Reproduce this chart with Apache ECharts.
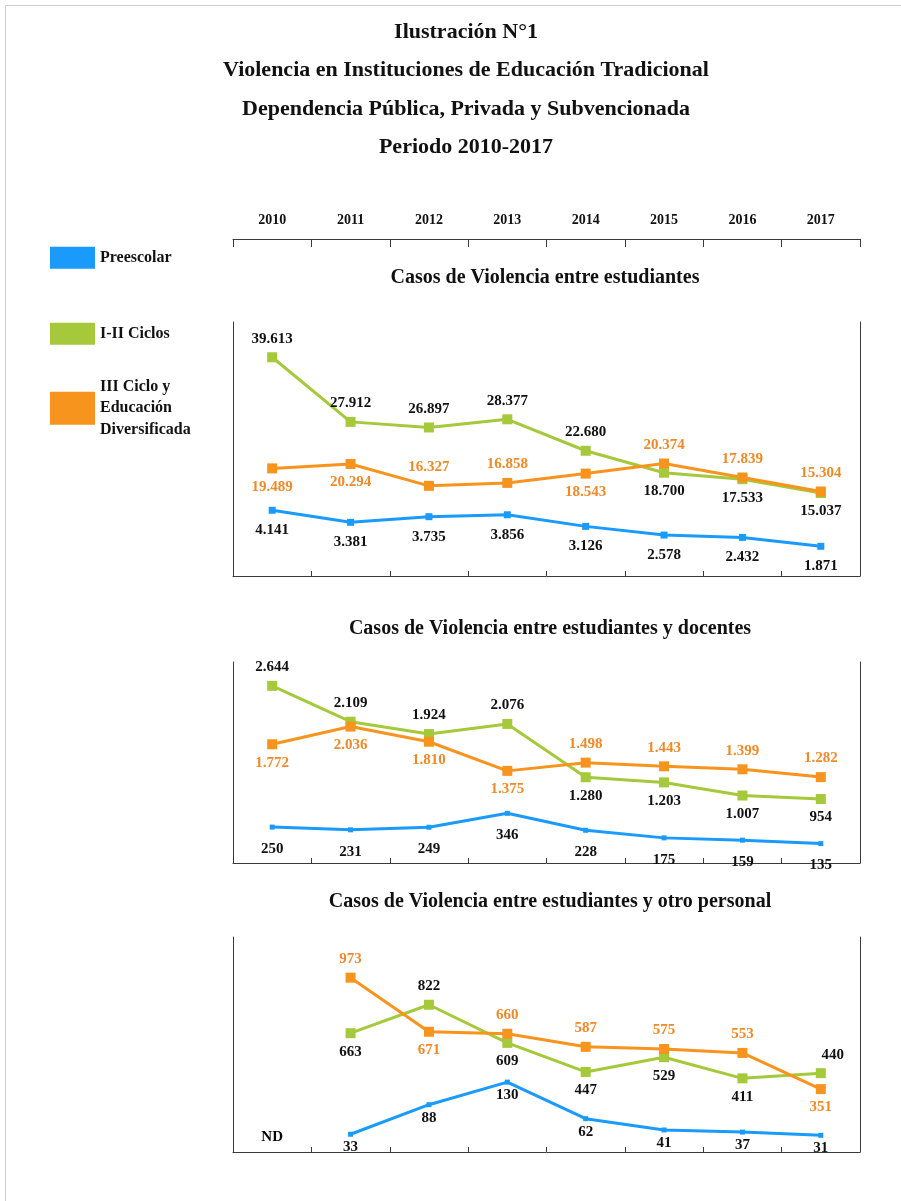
<!DOCTYPE html>
<html>
<head>
<meta charset="utf-8">
<script src="https://cdn.jsdelivr.net/npm/echarts@6/dist/echarts.min.js"></script>
<style>
html,body{margin:0;padding:0;background:#fff;}
#chart{width:901px;height:1201px;}
</style>
</head>
<body>
<div id="chart"></div>
<script>
// ---- data ----
const years = ['2010','2011','2012','2013','2014','2015','2016','2017'];
const seriesNames = ['Preescolar', 'I-II Ciclos', 'III Ciclo y\nEducación\nDiversificada'];
const panelTitles = ['Casos de Violencia entre estudiantes',
                     'Casos de Violencia entre estudiantes y docentes',
                     'Casos de Violencia entre estudiantes y otro personal'];
// Panel 1: entre estudiantes
const estPre    = [4141, 3381, 3735, 3856, 3126, 2578, 2432, 1871];
const estCiclos = [39613, 27912, 26897, 28377, 22680, 18700, 17533, 15037];
const estDiver  = [19489, 20294, 16327, 16858, 18543, 20374, 17839, 15304];
// Panel 2: estudiantes y docentes
const docPre    = [250, 231, 249, 346, 228, 175, 159, 135];
const docCiclos = [2644, 2109, 1924, 2076, 1280, 1203, 1007, 954];
const docDiver  = [1772, 2036, 1810, 1375, 1498, 1443, 1399, 1282];
// Panel 3: estudiantes y otro personal (2010 = ND)
const otroPre    = [null, 33, 88, 130, 62, 41, 37, 31];
const otroCiclos = [null, 663, 822, 609, 447, 529, 411, 440];
const otroDiver  = [null, 973, 671, 660, 587, 575, 553, 351];
const ndLabel = 'ND';

// ---- label placement (style) ----
const T = 'top', B = 'bottom';
const posEstPre    = [B,B,B,B,B,B,B,B];
const posEstCiclos = [T,T,T,T,T,B,B,B];
const posEstDiver  = [B,B,T,T,B,T,T,T];
const posDocPre    = [B,B,B,B,B,B,B,B];
const posDocCiclos = [T,T,T,T,B,B,B,B];
const posDocDiver  = [B,B,B,B,T,T,T,T];
const posOtroPre    = [B,B,B,B,B,B,B,B];
const posOtroCiclos = [B,B,T,B,B,B,B,T];
const posOtroDiver  = [T,T,B,T,T,T,T,B];
const offOtroCiclos = [0,0,0,0,0,0,0,12];

const C_BLUE = '#1a9bfc', C_GREEN = '#a5c93a', C_ORANGE = '#f7941e', C_ORANGE_TXT = '#ef8a2a';
const FONT = "'Liberation Serif','Times New Roman',serif";

function fmt(v){ return String(v).replace(/\B(?=(\d{3})+(?!\d))/g, '.'); }

function mkData(vals, pos, off){
  return vals.map((v,i)=> v==null ? null :
    ({value:v, label:{position:pos[i], offset:[off ? off[i] : 0, 0]}}));
}

function mkSeries(nameIdx, gi, yi, vals, pos, color, txtColor, symSize, dist, off){
  return {
    type:'line', name: seriesNames[nameIdx],
    xAxisIndex: gi, yAxisIndex: yi,
    data: mkData(vals, pos, off),
    symbol:'rect', symbolSize: symSize,
    showAllSymbol: true,
    lineStyle:{color: color, width: 3},
    itemStyle:{color: color},
    label:{show:true, formatter: p => fmt(p.value), color: txtColor,
           fontFamily: FONT, fontWeight:'bold', fontSize:15, distance: dist},
    emphasis:{disabled:true},
    animation:false
  };
}

const gridDefs = [
  {top:322, height:254, max1:46000, max2:16000},
  {top:662, height:201, max1:3000,  max2:1400},
  {top:937, height:215, max1:1200,  max2:400}
];

const grids = gridDefs.map(g=>({left:233, right:41, top:g.top, height:g.height}));
const axisLineStyle = {color:'#3a3a3a', width:1};
const xAxes = gridDefs.map((g,i)=>({
  type:'category', gridIndex:i, data: years, boundaryGap:true, position:'bottom',
  axisLine:{show:true, onZero:false, lineStyle:axisLineStyle},
  axisTick:{show:true, inside:true, length:5, lineStyle:axisLineStyle},
  axisLabel:{show:false}, splitLine:{show:false}
}));
xAxes.push({
  type:'category', gridIndex:0, data: years, boundaryGap:true, position:'top', offset:83,
  axisLine:{show:true, onZero:false, lineStyle:axisLineStyle},
  axisTick:{show:true, inside:true, length:8, lineStyle:axisLineStyle},
  axisLabel:{show:true, margin:12, color:'#111', fontFamily:FONT, fontWeight:'bold', fontSize:14},
  splitLine:{show:false}
});
const yAxes = [];
gridDefs.forEach((g,i)=>{
  yAxes.push({type:'value', gridIndex:i, position:'left', min:0, max:g.max1,
    axisLine:{show:true, onZero:false, lineStyle:axisLineStyle}, axisTick:{show:false},
    axisLabel:{show:false}, splitLine:{show:false}});
  yAxes.push({type:'value', gridIndex:i, position:'right', min:0, max:g.max2,
    axisLine:{show:true, onZero:false, lineStyle:axisLineStyle}, axisTick:{show:false},
    axisLabel:{show:false}, splitLine:{show:false}});
});

const series = [
  mkSeries(0, 0, 1, estPre, posEstPre, C_BLUE, '#111', 7, 9),
  mkSeries(1, 0, 0, estCiclos, posEstCiclos, C_GREEN, '#111', 10, 6),
  mkSeries(2, 0, 0, estDiver, posEstDiver, C_ORANGE, C_ORANGE_TXT, 10, 6),
  mkSeries(0, 1, 3, docPre, posDocPre, C_BLUE, '#111', 5, 12),
  mkSeries(1, 1, 2, docCiclos, posDocCiclos, C_GREEN, '#111', 10, 6),
  mkSeries(2, 1, 2, docDiver, posDocDiver, C_ORANGE, C_ORANGE_TXT, 10, 6),
  mkSeries(0, 2, 5, otroPre, posOtroPre, C_BLUE, '#111', 5, 3),
  mkSeries(1, 2, 4, otroCiclos, posOtroCiclos, C_GREEN, '#111', 10, 6, offOtroCiclos),
  mkSeries(2, 2, 4, otroDiver, posOtroDiver, C_ORANGE, C_ORANGE_TXT, 10, 6),
  {
    type:'scatter', name:'ND', xAxisIndex:2, yAxisIndex:5,
    data:[[years[0], 0]], symbolSize:0,
    label:{show:true, position:'top', distance:7, formatter: ()=>ndLabel, color:'#000',
           fontFamily:FONT, fontWeight:'bold', fontSize:15},
    itemStyle:{opacity:1},
    emphasis:{disabled:true}, animation:false, silent:true
  }
];

const titleStyle = {fontFamily:FONT, fontWeight:'bold', fontSize:20, color:'#111'};
const titles = [
  {text:'Ilustración N°1\nViolencia en Instituciones de Educación Tradicional\nDependencia Pública, Privada y Subvencionada\nPeriodo 2010-2017',
   left:461, textAlign:'center', top:8,
   textStyle:{fontFamily:FONT, fontWeight:'bold', fontSize:22, color:'#111', lineHeight:38.5}},
  {text:panelTitles[0], left:540, textAlign:'center', top:263, textStyle:titleStyle},
  {text:panelTitles[1], left:545, textAlign:'center', top:614, textStyle:titleStyle},
  {text:panelTitles[2], left:545, textAlign:'center', top:887, textStyle:titleStyle}
];

const legendBase = {orient:'vertical', left:45, icon:'rect', itemWidth:45, itemHeight:22,
  selectedMode:false,
  textStyle:{fontFamily:FONT, fontWeight:'bold', fontSize:16, color:'#111', lineHeight:21.5,
             padding:[6,0,0,0]}};
const legends = [
  Object.assign({}, legendBase, {top:239, data:[seriesNames[0]]}),
  Object.assign({}, legendBase, {top:315, data:[seriesNames[1]]}),
  Object.assign({}, legendBase, {top:368, itemHeight:33, data:[seriesNames[2]]})
];

const chart = echarts.init(document.getElementById('chart'), null, {renderer:'canvas'});
chart.setOption({
  backgroundColor:'#fff',
  animation:false,
  title: titles,
  legend: legends,
  grid: grids,
  xAxis: xAxes,
  yAxis: yAxes,
  series: series,
  graphic:[
    {type:'line', shape:{x1:5, y1:5.5, x2:901, y2:5.5}, style:{stroke:'#cfcfcf', lineWidth:1}, silent:true},
    {type:'line', shape:{x1:5.5, y1:5, x2:5.5, y2:1201}, style:{stroke:'#cfcfcf', lineWidth:1}, silent:true}
  ]
});
</script>
</body>
</html>
